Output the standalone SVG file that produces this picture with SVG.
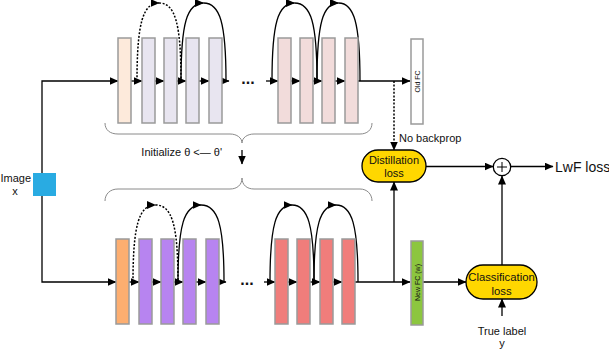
<svg xmlns="http://www.w3.org/2000/svg" width="609" height="351" viewBox="0 0 609 351">
<defs>
<marker id="ah" markerUnits="userSpaceOnUse" markerWidth="9" markerHeight="8" refX="8.5" refY="4" orient="auto"><path d="M0,0 L9,4 L0,8 z" fill="#000"/></marker>
<style>
.ln{fill:none;stroke:#000;stroke-width:1.3}
.dot{fill:none;stroke:#000;stroke-width:1.5;stroke-dasharray:2 1.6}
.br{fill:none;stroke:#8a8a8a;stroke-width:1}
.cv{stroke:#9a9a9a;stroke-width:1.5}
.t{font-family:"Liberation Sans",Arial,sans-serif;fill:#111}
.pill{fill:#ffd700;stroke:#000;stroke-width:1.3}
</style>
</defs>
<rect width="609" height="351" fill="#fff"/>

<g id="connectors">
<path class="ln" d="M42 173 V81 H118" stroke="#444" stroke-width="1.6" marker-end="url(#ah)"/>
<path class="ln" d="M42 196 V282 H116" marker-end="url(#ah)"/>
<path class="ln" d="M131 81H142" marker-end="url(#ah)"/>
<path class="ln" d="M155 81H164" marker-end="url(#ah)"/>
<path class="ln" d="M177 81H186" marker-end="url(#ah)"/>
<path class="ln" d="M199 81H209" marker-end="url(#ah)"/>
<path class="ln" d="M222 81H229" marker-end="url(#ah)"/>
<path class="ln" d="M266 81H278" marker-end="url(#ah)"/>
<path class="ln" d="M291 81H300" marker-end="url(#ah)"/>
<path class="ln" d="M313 81H322" marker-end="url(#ah)"/>
<path class="ln" d="M335 81H345" marker-end="url(#ah)"/>
<path class="ln" d="M358 81H410" marker-end="url(#ah)"/>
<path class="ln" d="M129 282H139" marker-end="url(#ah)"/>
<path class="ln" d="M152 282H161" marker-end="url(#ah)"/>
<path class="ln" d="M174 282H183" marker-end="url(#ah)"/>
<path class="ln" d="M196 282H206" marker-end="url(#ah)"/>
<path class="ln" d="M219 282H226" marker-end="url(#ah)"/>
<path class="ln" d="M264 282H275" marker-end="url(#ah)"/>
<path class="ln" d="M288 282H297" marker-end="url(#ah)"/>
<path class="ln" d="M310 282H320" marker-end="url(#ah)"/>
<path class="ln" d="M333 282H342" marker-end="url(#ah)"/>
<path class="ln" d="M355 282H410" marker-end="url(#ah)"/>
<!-- top arcs -->
<path class="dot" d="M137 81 C137 23 143 3 159 3" marker-end="url(#ah)"/>
<path class="dot" d="M159 3 C175 3 181 23 181 81"/>
<path class="ln" d="M181 81 C181 23 187 3 203.5 3" marker-end="url(#ah)"/>
<path class="ln" d="M203.5 3 C220 3 226 23 226 81"/>
<path class="ln" d="M272 81 C272 23 278 3 294.5 3" marker-end="url(#ah)"/>
<path class="ln" d="M294.5 3 C311 3 317 23 317 81"/>
<path class="ln" d="M317 81 C317 23 323 3 338.5 3" marker-end="url(#ah)"/>
<path class="ln" d="M338.5 3 C354 3 360 23 360 81"/>
<!-- bottom arcs -->
<path class="dot" d="M133 282 C133 225 139 205 155.5 205" marker-end="url(#ah)"/>
<path class="dot" d="M155.5 205 C172 205 178 225 178 282"/>
<path class="ln" d="M178 282 C178 225 184 205 201 205" marker-end="url(#ah)"/>
<path class="ln" d="M201 205 C218 205 224 225 224 282"/>
<path class="ln" d="M270 282 C270 225 276 205 292 205" marker-end="url(#ah)"/>
<path class="ln" d="M292 205 C308 205 314 225 314 282"/>
<path class="ln" d="M314 282 C314 225 320 205 336 205" marker-end="url(#ah)"/>
<path class="ln" d="M336 205 C352 205 358 225 358 282"/>
<!-- loss connections -->
<path class="dot" d="M394 81 V150" marker-end="url(#ah)"/>
<path class="ln" d="M394 282 V182" marker-end="url(#ah)"/>
<path class="ln" d="M426 166.5 H493" marker-end="url(#ah)"/>
<path class="ln" d="M511 166.5 H553" stroke-width="1.8" marker-end="url(#ah)"/>
<path class="ln" d="M502 265 V176" marker-end="url(#ah)"/>
<path class="ln" d="M423 282 H466" marker-end="url(#ah)"/>
<path class="ln" d="M502 316 V299" marker-end="url(#ah)"/>
<path class="ln" d="M242 150 V164" marker-end="url(#ah)"/>
</g>

<g id="braces">
<path class="br" d="M105 123 C105 130 110 134 118 134 H230 C237 134 242 138 242 143 C242 138 247 134 254 134 H360 C367 134 372 130 372 123"/>
<path class="br" d="M105 201 C105 194 110 189 118 189 H230 C237 189 242 185 242 178 C242 185 247 189 254 189 H360 C367 189 372 194 372 201"/>
</g>

<g id="image-input">
<rect x="33" y="173" width="23" height="23" fill="#29abe2"/>
<text class="t" x="31" y="182" font-size="11" text-anchor="end">Image</text>
<text class="t" x="15" y="195" font-size="11" text-anchor="middle">x</text>
</g>

<g id="old-network">
<rect class="cv" x="118" y="38" width="13" height="85" fill="#fdeadb"/>
<rect class="cv" x="142" y="38" width="13" height="85" fill="#e8e5f0"/>
<rect class="cv" x="164" y="38" width="13" height="85" fill="#e8e5f0"/>
<rect class="cv" x="186" y="38" width="13" height="85" fill="#e8e5f0"/>
<rect class="cv" x="209" y="38" width="13" height="85" fill="#e8e5f0"/>
<rect class="cv" x="278" y="38" width="13" height="85" fill="#f2dcdb"/>
<rect class="cv" x="300" y="38" width="13" height="85" fill="#f2dcdb"/>
<rect class="cv" x="322" y="38" width="13" height="85" fill="#f2dcdb"/>
<rect class="cv" x="345" y="38" width="13" height="85" fill="#f2dcdb"/>
<text class="t" x="248" y="84" font-size="16" font-weight="bold" text-anchor="middle">...</text>
</g>

<g id="old-fc">
<rect class="cv" x="411" y="39" width="12" height="85" fill="#fff"/>
<text class="t" transform="translate(419.5 81.5) rotate(-90)" font-size="7" text-anchor="middle">Old FC</text>
</g>

<g id="new-network">
<rect class="cv" x="116" y="239" width="13" height="85" fill="#fdae70"/>
<rect class="cv" x="139" y="239" width="13" height="85" fill="#b784f0"/>
<rect class="cv" x="161" y="239" width="13" height="85" fill="#b784f0"/>
<rect class="cv" x="183" y="239" width="13" height="85" fill="#b784f0"/>
<rect class="cv" x="206" y="239" width="13" height="85" fill="#b784f0"/>
<rect class="cv" x="275" y="239" width="13" height="85" fill="#f07d7b"/>
<rect class="cv" x="297" y="239" width="13" height="85" fill="#f07d7b"/>
<rect class="cv" x="320" y="239" width="13" height="85" fill="#f07d7b"/>
<rect class="cv" x="342" y="239" width="13" height="85" fill="#f07d7b"/>
<text class="t" x="247" y="285" font-size="16" font-weight="bold" text-anchor="middle">...</text>
</g>

<g id="new-fc">
<rect class="cv" x="411" y="241" width="12" height="84" fill="#8cc63f"/>
<text class="t" transform="translate(419.5 282.5) rotate(-90)" font-size="7" text-anchor="middle">New FC (w)</text>
</g>

<g id="initialize">
<text class="t" x="222" y="156" font-size="11" text-anchor="end">Initialize θ &lt;— θ'</text>
</g>

<g id="no-backprop">
<text class="t" x="399" y="142" font-size="11">No backprop</text>
</g>

<g id="distillation-loss">
<rect class="pill" x="362" y="150" width="64" height="32" rx="16"/>
<text class="t" x="394" y="164" font-size="11" text-anchor="middle">Distillation</text>
<text class="t" x="394" y="177" font-size="11" text-anchor="middle">loss</text>
</g>

<g id="sum">
<circle cx="502" cy="167" r="8.7" fill="#fff" stroke="#000" stroke-width="1.3"/>
<path d="M497 167 H507 M502 162 V172" stroke="#000" stroke-width="1"/>
</g>

<g id="lwf-loss">
<text class="t" x="555" y="172" font-size="14">LwF loss</text>
</g>

<g id="classification-loss">
<rect class="pill" x="466" y="265" width="71" height="34" rx="17"/>
<text class="t" x="501.5" y="281" font-size="11.3" text-anchor="middle">Classification</text>
<text class="t" x="501.5" y="295" font-size="11.3" text-anchor="middle">loss</text>
</g>

<g id="true-label">
<text class="t" x="502" y="335" font-size="11" text-anchor="middle">True label</text>
<text class="t" x="502" y="347" font-size="11" text-anchor="middle">y</text>
</g>
</svg>
